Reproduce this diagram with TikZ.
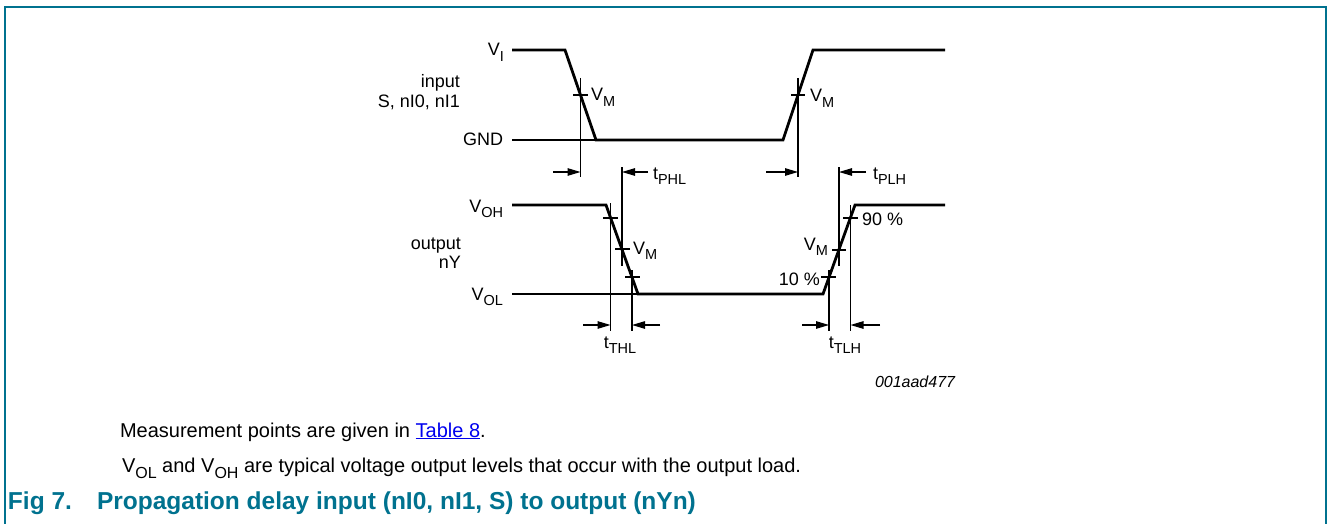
\documentclass[tikz,border=0pt]{standalone}
\usepackage{fontspec}
\setmainfont{Liberation Sans}
\usetikzlibrary{arrows.meta}
\definecolor{teal7}{RGB}{0,114,143}
\definecolor{linkblue}{RGB}{0,0,238}
\newcommand\sbs[1]{\raisebox{-0.3em}{\fontsize{14.5}{15}\selectfont #1}}
\newcommand\sbc[1]{\raisebox{-0.3em}{\fontsize{16}{17}\selectfont #1}}
\begin{document}
\begin{tikzpicture}[x=1pt,y=-1pt,
  font=\fontsize{18}{21}\selectfont,
  wave/.style={line width=2.8pt, line join=miter},
  thinln/.style={line width=1.1pt},
  arr/.style={line width=1.1pt, -{Triangle[length=13pt,width=7.5pt]}},
  lbl/.style={inner sep=0pt, outer sep=0pt},
  capt/.style={inner sep=0pt, outer sep=0pt, anchor=base west, font=\fontsize{20}{23}\selectfont},
  captb/.style={inner sep=0pt, outer sep=0pt, anchor=base west, font=\fontsize{24.5}{27}\selectfont\bfseries, text=teal7}]
\useasboundingbox (0,0) rectangle (1332,524);
% frame
\coordinate (fbl) at (5,524); \coordinate (ftl) at (5,7);
\coordinate (ftr) at (1326,7); \coordinate (fbr) at (1326,524);
\draw[teal7, line width=1.5pt] (fbl) -- (ftl) -- (ftr) -- (fbr);

% ---------- input waveform ----------
\coordinate (i0) at (512,50); \coordinate (i1) at (565,50);
\coordinate (i2) at (596,140); \coordinate (i3) at (783,140);
\coordinate (i4) at (813,50); \coordinate (i5) at (945,50);
\coordinate (gnd0) at (512,140);
\draw[thinln] (gnd0) -- (i2);
\draw[wave] (i0) -- (i1) -- (i2) -- (i3) -- (i4) -- (i5);

% VM verticals and ticks on input
\coordinate (vmA0) at (580.5,78); \coordinate (vmA1) at (580.5,177);
\coordinate (vmB0) at (798,78);   \coordinate (vmB1) at (798,177);
\draw[thinln] (vmA0) -- (vmA1);
\draw[thinln] (vmB0) -- (vmB1);
\coordinate (tkA0) at (573,95); \coordinate (tkA1) at (588,95);
\coordinate (tkB0) at (791,95); \coordinate (tkB1) at (805,95);
\draw[thinln] (tkA0) -- (tkA1);
\draw[thinln] (tkB0) -- (tkB1);

% ---------- output waveform ----------
\coordinate (o0) at (512,205); \coordinate (o1) at (606,205);
\coordinate (o2) at (638,294); \coordinate (o3) at (823,294);
\coordinate (o4) at (855,205); \coordinate (o5) at (945,205);
\coordinate (vol0) at (512,294);
\draw[thinln] (vol0) -- (o2);
\draw[wave] (o0) -- (o1) -- (o2) -- (o3) -- (o4) -- (o5);

% t_PHL / t_PLH end verticals
\coordinate (phl0) at (622,167); \coordinate (phl1) at (622,266);
\coordinate (plh0) at (839,167); \coordinate (plh1) at (839,266);
\draw[thinln] (phl0) -- (phl1);
\draw[thinln] (plh0) -- (plh1);

% falling edge verticals & ticks
\coordinate (f90a) at (610.5,203); \coordinate (f90b) at (610.5,331);
\coordinate (f10a) at (632,270);   \coordinate (f10b) at (632,331);
\draw[thinln] (f90a) -- (f90b);
\draw[thinln] (f10a) -- (f10b);
\coordinate (ft1a) at (603,218); \coordinate (ft1b) at (618,218);
\coordinate (ft2a) at (615,249); \coordinate (ft2b) at (630,249);
\coordinate (ft3a) at (625,277); \coordinate (ft3b) at (640,277);
\draw[thinln] (ft1a) -- (ft1b);
\draw[thinln] (ft2a) -- (ft2b);
\draw[thinln] (ft3a) -- (ft3b);

% rising edge verticals & ticks
\coordinate (r10a) at (829,270);   \coordinate (r10b) at (829,331);
\coordinate (r90a) at (850.5,205); \coordinate (r90b) at (850.5,331);
\draw[thinln] (r10a) -- (r10b);
\draw[thinln] (r90a) -- (r90b);
\coordinate (rt1a) at (821,277); \coordinate (rt1b) at (836,277);
\coordinate (rt2a) at (832,250); \coordinate (rt2b) at (846,250);
\coordinate (rt3a) at (843,218); \coordinate (rt3b) at (858,218);
\draw[thinln] (rt1a) -- (rt1b);
\draw[thinln] (rt2a) -- (rt2b);
\draw[thinln] (rt3a) -- (rt3b);

% ---------- arrows ----------
\coordinate (aPHL1) at (553,172); \coordinate (aPHL1e) at (580.5,172);
\coordinate (aPHL2) at (648,172); \coordinate (aPHL2e) at (622,172);
\draw[arr] (aPHL1) -- (aPHL1e);
\draw[arr] (aPHL2) -- (aPHL2e);
\coordinate (aPLH1) at (766,172); \coordinate (aPLH1e) at (798,172);
\coordinate (aPLH2) at (866,172); \coordinate (aPLH2e) at (839,172);
\draw[arr] (aPLH1) -- (aPLH1e);
\draw[arr] (aPLH2) -- (aPLH2e);
\coordinate (aTHL1) at (583,325); \coordinate (aTHL1e) at (610.5,325);
\coordinate (aTHL2) at (660,325); \coordinate (aTHL2e) at (632,325);
\draw[arr] (aTHL1) -- (aTHL1e);
\draw[arr] (aTHL2) -- (aTHL2e);
\coordinate (aTLH1) at (802,325); \coordinate (aTLH1e) at (829,325);
\coordinate (aTLH2) at (880,325); \coordinate (aTLH2e) at (850.5,325);
\draw[arr] (aTLH1) -- (aTLH1e);
\draw[arr] (aTLH2) -- (aTLH2e);

% ---------- labels ----------
\node[lbl, anchor=base east] (lVI) at (504,56) {V\sbs{I}};
\node[lbl, anchor=base east] (lin1) at (460,88) {input};
\node[lbl, anchor=base east] (lin2) at (460,107) {S, nI0, nI1};
\node[lbl, anchor=base east] (lGND) at (503,146) {GND};
\node[lbl, anchor=base west] (lVMa) at (591,101) {V\sbs{M}};
\node[lbl, anchor=base west] (lVMb) at (810,102) {V\sbs{M}};
\node[lbl, anchor=base west] (ltPHL) at (653,179) {t\sbs{PHL}};
\node[lbl, anchor=base west] (ltPLH) at (873,179) {t\sbs{PLH}};
\node[lbl, anchor=base east] (lVOH) at (503,212) {V\sbs{OH}};
\node[lbl, anchor=base east] (lout1) at (461,249) {output};
\node[lbl, anchor=base east] (lout2) at (461,268) {nY};
\node[lbl, anchor=base east] (lVOL) at (503,300) {V\sbs{OL}};
\node[lbl, anchor=base west] (lVMc) at (633,254) {V\sbs{M}};
\node[lbl, anchor=base east] (lVMd) at (828,250) {V\sbs{M}};
\node[lbl, anchor=base east] (l10) at (820,285) {10 \%};
\node[lbl, anchor=base west] (l90) at (862,225) {90 \%};
\node[lbl, anchor=base] (ltTHL) at (620,348) {t\sbs{THL}};
\node[lbl, anchor=base] (ltTLH) at (845,348) {t\sbs{TLH}};
\node[lbl, anchor=base west, font=\fontsize{16}{18}\selectfont\itshape] (lid) at (875,387) {001aad477};

% ---------- caption ----------
\node[capt] (cap1) at (120,437) {Measurement points are given in \textcolor{linkblue}{\underline{Table 8}}.};
\node[capt] (cap2) at (122,472) {V\sbc{OL} and V\sbc{OH} are typical voltage output levels that occur with the output load.};
\node[captb] (cap3a) at (8,509) {Fig 7.};
\node[captb] (cap3b) at (97,509) {Propagation delay input (nI0, nI1, S) to output (nYn)};
\end{tikzpicture}
\end{document}
